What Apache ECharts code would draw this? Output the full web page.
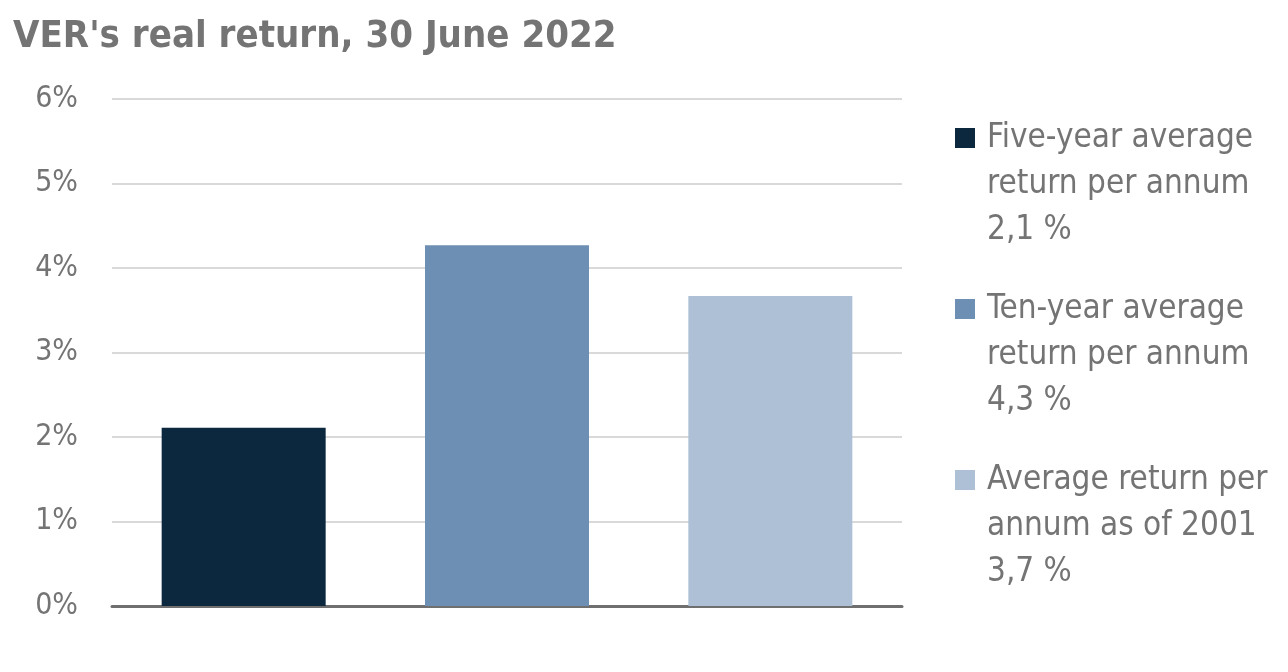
<!DOCTYPE html>
<html>
<head>
<meta charset="utf-8">
<title>VER's real return</title>
<script src="https://cdn.jsdelivr.net/npm/echarts@6/dist/echarts.min.js"></script>
<style>
  html, body { margin: 0; padding: 0; background: #fff; }
  #chart { width: 1288px; height: 672px; }
</style>
</head>
<body>
<div id="chart"></div>
<script>
// data
var categories = ['five', 'ten', 'since2001'];
var seriesNames = [
  'Five-year average\nreturn per annum\n2,1 %',
  'Ten-year average\nreturn per annum\n4,3 %',
  'Average return per\nannum as of 2001\n3,7 %'
];
var values = [2.11, 4.27, 3.67];
var colors = ['#0c283e', '#6d8fb3', '#adc0d6'];
var yTicks = [0, 1, 2, 3, 4, 5, 6];

var font = "'DejaVu Sans Condensed', 'Liberation Sans Narrow', sans-serif";
var grey = '#747474';

// legend marker: square near top of a tall transparent box so it sits on the first text line
var legendIcon = 'path://M0,13H20V33H0Z M0,0L0.01,0 M27,138L27.01,138';

var series = [];
for (var i = 0; i < seriesNames.length; i++) {
  var d = [];
  for (var j = 0; j < categories.length; j++) d.push(j == i ? values[i] : '-');
  series.push({
    name: seriesNames[i],
    type: 'bar',
    data: d,
    barWidth: 164,
    barGap: '-100%',
    itemStyle: { color: colors[i] }
  });
}

var chart = echarts.init(document.getElementById('chart'));
chart.setOption({
  animation: false,
  textStyle: { fontFamily: font },
  title: {
    text: "VER's real return, 30 June 2022",
    left: 8, top: 13,
    textStyle: { fontFamily: font, fontSize: 38, fontWeight: 'bold', color: grey }
  },
  legend: {
    orient: 'vertical',
    left: 950, top: 110,
    itemWidth: 27, itemHeight: 138,
    itemGap: 33,
    icon: legendIcon,
    selectedMode: false,
    textStyle: { fontFamily: font, fontSize: 33, lineHeight: 46, color: grey }
  },
  grid: { left: 112, right: 386, top: 99, bottom: 66 },
  xAxis: {
    type: 'category',
    data: categories,
    axisLine: { lineStyle: { color: '#6f6f6f', width: 3 } },
    axisTick: { show: false },
    axisLabel: { show: false }
  },
  yAxis: {
    type: 'value',
    min: yTicks[0], max: yTicks[yTicks.length - 1], interval: 1,
    axisLine: { show: false },
    axisTick: { show: false },
    axisLabel: {
      margin: 34,
      fontFamily: font, fontSize: 30, color: grey,
      formatter: function (v) { return v + '%'; }
    },
    splitLine: { lineStyle: { color: '#d9d9d9', width: 2 } }
  },
  series: series
});
</script>
</body>
</html>
